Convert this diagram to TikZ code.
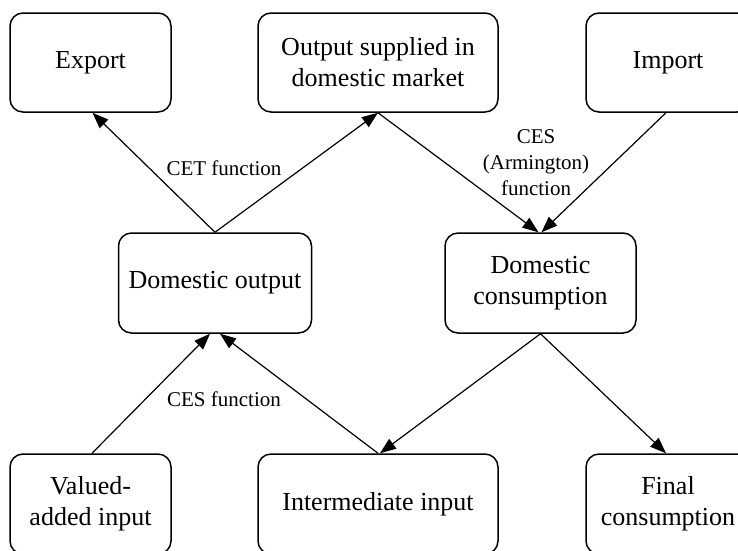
\documentclass[tikz,border=0pt]{standalone}
\usepackage{fontspec}
\setmainfont{Liberation Serif}
\usetikzlibrary{arrows.meta}

\begin{document}
\begin{tikzpicture}[x=1pt,y=-1pt,
        box/.style={draw,line width=1.5pt,rounded corners=13pt,align=center,
            inner sep=0pt,font=\fontsize{26}{31}\selectfont},
        flow/.style={line width=1.2pt,-{Triangle[length=16pt,width=12pt]}},
        lbl/.style={align=center,font=\fontsize{21}{26}\selectfont}]
        \clip (0,0) rectangle (738,550);
        % top row
        \node[box,minimum width=161pt,minimum height=99pt] (export) at (90.5,62.5) {Export};
        \node[box,minimum width=240pt,minimum height=99pt] (supplied) at (378,62.5) {Output supplied in\\domestic market};
        \node[box,minimum width=164pt,minimum height=99pt] (import) at (668,62.5) {Import};
        % middle row
        \node[box,minimum width=193pt,minimum height=100pt] (domout) at (215,283) {Domestic output};
        \node[box,minimum width=191pt,minimum height=100pt] (domcons) at (540.5,283) {Domestic\\consumption};
        % bottom row
        \node[box,minimum width=161pt,minimum height=100pt] (valadd) at (90.5,504) {Valued-\\added input};
        \node[box,minimum width=240pt,minimum height=100pt] (inter) at (378,504) {Intermediate input};
        \node[box,minimum width=164pt,minimum height=100pt] (final) at (668,504) {Final\\consumption};
        % connectors
        \draw[flow] (domout.north) -- ([xshift=2pt]export.south);
        \draw[flow] (domout.north) -- (supplied.south);
        \draw[flow] (supplied.south) -- ([xshift=-2pt]domcons.north);
        \draw[flow] ([xshift=-2pt]import.south) -- ([xshift=1pt]domcons.north);
        \draw[flow] (domcons.south) -- ([xshift=2pt]inter.north);
        \draw[flow] (domcons.south) -- ([xshift=-2pt]final.north);
        \draw[flow] ([xshift=1.5pt]valadd.north) -- ([xshift=-5pt]domout.south);
        \draw[flow] (inter.north) -- ([xshift=5pt]domout.south);
        % labels
        \node[lbl] (cet) at (224,168) {CET function};
        \node[lbl] (arm) at (536,163) {CES\\(Armington)\\function};
        \node[lbl] (ces) at (224,399) {CES function};
    \end{tikzpicture}
\end{document}
